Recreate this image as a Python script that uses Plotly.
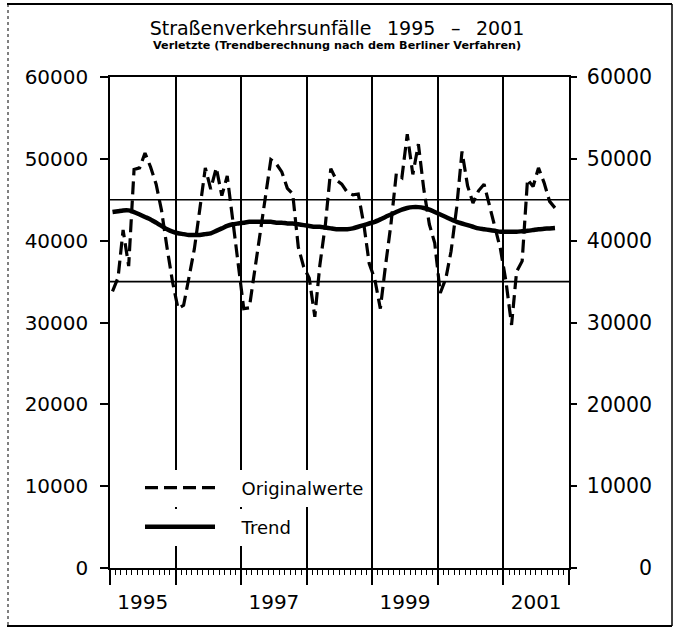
import pandas as pd
import plotly.graph_objects as go

# ---------------- data ----------------
ORIGINAL = [
    # 1995
    33800, 35500, 41300, 36900, 48700, 48900, 50700, 49000, 46900, 43700, 39100, 35000,
    # 1996
    31700, 32100, 35400, 39000, 43800, 48900, 46300, 48900, 45500, 47900, 42500, 37300,
    # 1997
    31700, 31800, 35900, 40300, 44700, 49900, 49400, 48400, 46400, 45700, 39200, 36800,
    # 1998
    35400, 30700, 37000, 42000, 48800, 47400, 46900, 45900, 45600, 45700, 42000, 37200,
    # 1999
    35300, 31700, 36800, 42000, 48200, 47700, 53000, 48100, 51800, 46300, 42000, 39700,
    # 2000
    33600, 35400, 38700, 44000, 50900, 46700, 44600, 46100, 46900, 44400, 41600, 39000,
    # 2001 (Jan-Oct)
    35000, 29700, 36200, 37500, 47500, 46600, 48900, 47100, 44800, 44000,
]
TREND = [
    43500, 43600, 43700, 43700, 43500, 43200, 42900, 42600, 42200, 41800, 41400, 41100,
    40900, 40800, 40700, 40700, 40700, 40800, 40900, 41200, 41500, 41800, 42000, 42100,
    42200, 42300, 42300, 42300, 42300, 42300, 42200, 42200, 42100, 42100, 42000, 41900,
    41800, 41700, 41700, 41600, 41500, 41400, 41400, 41400, 41500, 41700, 41900, 42100,
    42300, 42600, 42900, 43200, 43500, 43800, 44000, 44100, 44100, 44000, 43800, 43500,
    43200, 42900, 42600, 42300, 42100, 41900, 41700, 41500, 41400, 41300, 41200, 41100,
    41100, 41100, 41100, 41150, 41200, 41300, 41400, 41450, 41500, 41550,
]
REFERENCE_LINES = [45000, 35000]
Y_TICKS = [0, 10000, 20000, 30000, 40000, 50000, 60000]
YEAR_LABEL_POS = ["1995-07-02", "1997-07-02", "1999-07-02", "2001-07-02"]
YEAR_LABELS = ["1995", "1997", "1999", "2001"]
X_RANGE = ["1995-01-01", "2002-01-01"]
Y_RANGE = [0, 60000]
SERIES_NAMES = ["Originalwerte", "Trend"]
TITLE = "Straßenverkehrsunfälle\u2002 1995\u2002 –\u2002 2001"
SUBTITLE = "Verletzte (Trendberechnung nach dem Berliner Verfahren)"

# monthly points, placed mid-month
months = pd.date_range("1995-01-01", periods=len(ORIGINAL), freq="MS") + pd.Timedelta(days=14)

FONT = "DejaVu Sans"
BLACK = "#000000"
LEGEND_PAD = "\u2003\u2009"

fig = go.Figure()
fig.add_trace(go.Scatter(
    x=months, y=ORIGINAL, name=LEGEND_PAD + SERIES_NAMES[0], mode="lines",
    line=dict(color=BLACK, width=3.2, dash="13px,6px"),
    legend="legend", xaxis="x", yaxis="y",
))
fig.add_trace(go.Scatter(
    x=months, y=TREND, name=LEGEND_PAD + SERIES_NAMES[1], mode="lines",
    line=dict(color=BLACK, width=4.5, shape="spline", smoothing=0.6),
    legend="legend2", xaxis="x2", yaxis="y2",
))

for v in REFERENCE_LINES:
    fig.add_hline(y=v, line=dict(color=BLACK, width=1.6), layer="below")

L, R, T, B = 110, 109, 77, 65
W, H = 678, 633
PW, PH = W - L - R, H - T - B


def px_x(p):
    return (p - L) / PW


def px_y(p):
    return (H - B - p) / PH


# outer frame (scanned page border)
frame = [
    (7, 4, 672, 4, "solid", 2),
    (7, 626, 672, 626, "solid", 2),
    (672, 4, 672, 626, "solid", 1.5),
    (8, 4, 8, 626, "dot", 1),
]
for x0, y0, x1, y1, d, w in frame:
    fig.add_shape(type="line", xref="paper", yref="paper",
                  x0=px_x(x0), y0=px_y(y0), x1=px_x(x1), y1=px_y(y1),
                  line=dict(color=BLACK, width=w, dash=d))

legend_common = dict(xanchor="left", yanchor="middle", bgcolor="white",
                     borderwidth=0, itemwidth=70,
                     font=dict(family=FONT, size=18, color=BLACK))

fig.update_layout(
    width=W, height=H,
    margin=dict(l=L, r=R, t=T, b=B),
    paper_bgcolor="white", plot_bgcolor="white",
    font=dict(family=FONT, color=BLACK, size=20),
    title=dict(text=TITLE, x=px_x(337), xref="paper", xanchor="center",
               y=1 - 28 / H, yanchor="middle",
               font=dict(family=FONT, size=19, color=BLACK)),
    annotations=[dict(text="<b>" + SUBTITLE + "</b>", xref="paper", yref="paper",
                      x=px_x(337), y=px_y(45), xanchor="center", yanchor="middle",
                      showarrow=False, font=dict(family=FONT, size=11.2, color=BLACK))],
    showlegend=True,
    legend=dict(x=px_x(140), y=px_y(488), **legend_common),
    legend2=dict(x=px_x(140), y=px_y(527), **legend_common),
    xaxis=dict(
        range=X_RANGE, type="date",
        tickmode="linear", tick0="1995-01-01", dtick="M12",
        ticks="outside", ticklen=15, tickwidth=1.5, tickcolor=BLACK,
        showticklabels=False,
        showgrid=True, gridcolor=BLACK, gridwidth=1.5,
        showline=True, linecolor=BLACK, linewidth=1.5, mirror=True,
        zeroline=False,
        minor=dict(tickmode="linear", tick0="1995-01-01", dtick="M1",
                   ticks="outside", ticklen=5, tickwidth=1, tickcolor=BLACK,
                   showgrid=False),
    ),
    xaxis2=dict(
        range=X_RANGE, type="date", overlaying="x", side="bottom", anchor="y",
        tickmode="array", tickvals=YEAR_LABEL_POS, ticktext=YEAR_LABELS,
        ticks="", showline=False, showgrid=False, zeroline=False,
        tickfont=dict(family=FONT, size=20, color=BLACK),
        ticklabelstandoff=20,
    ),
    yaxis=dict(
        range=Y_RANGE, tickmode="array", tickvals=Y_TICKS,
        ticktext=[str(v) for v in Y_TICKS],
        ticks="outside", ticklen=8, tickwidth=1.5, tickcolor=BLACK,
        showline=True, linecolor=BLACK, linewidth=1.5,
        showgrid=False, zeroline=False,
        tickfont=dict(family=FONT, size=20, color=BLACK),
        ticklabelstandoff=8,
    ),
    yaxis2=dict(
        range=Y_RANGE, overlaying="y", side="right", anchor="x",
        tickmode="array", tickvals=Y_TICKS,
        ticktext=[str(v).rjust(5, "\u2007") for v in Y_TICKS],
        ticks="outside", ticklen=6, tickwidth=1.5, tickcolor=BLACK,
        showline=True, linecolor=BLACK, linewidth=1.5,
        showgrid=False, zeroline=False,
        tickfont=dict(family=FONT, size=20.5, color=BLACK),
        ticklabelstandoff=6,
    ),
)

fig.write_html(
    "out.html",
    config={"displayModeBar": False},
    post_script="document.body.style.margin='0';document.body.style.overflow='hidden';",
)
